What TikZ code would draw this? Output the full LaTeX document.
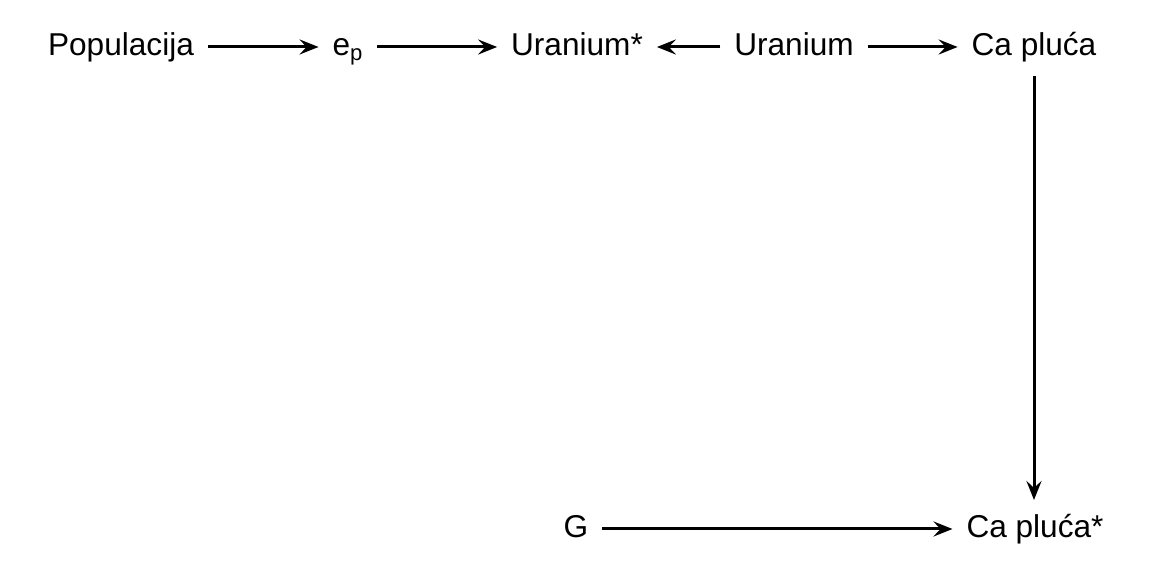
\documentclass[tikz,border=0pt]{standalone}
\usepackage{fontspec}
\setmainfont{Liberation Sans}
\usetikzlibrary{arrows.meta}
\tikzset{
  lbl/.style={inner sep=0pt, outer sep=0pt, text height=12pt, text depth=3pt,
    font=\fontsize{15.8}{19}\selectfont},
  arr/.style={-{Stealth[length=9.5pt,width=7.5pt,inset=3.5pt]}, line width=1.5pt,
    shorten <=7pt, shorten >=7pt}
}
\begin{document}
\begin{tikzpicture}[x=0.5pt,y=-0.5pt]
	  \useasboundingbox (0,0) rectangle (1152,576);
	  \node[lbl] (pop)   at (121,47)  {Populacija};
	  \node[lbl] (ep)    at (348,47)  {e\textsubscript{p}};
	  \node[lbl] (urz)   at (577,47)  {Uranium*};
	  \node[lbl] (ur)    at (794,47)  {Uranium};
	  \node[lbl] (ca)    at (1034,47) {Ca pluća};
	  \node[lbl] (g)     at (576,529) {G};
	  \node[lbl] (caz)   at (1035,529) {Ca pluća*};
	  \draw[arr] (pop) -- (ep);
	  \draw[arr] (ep) -- (urz);
	  \draw[arr] (ur) -- (urz);
	  \draw[arr] (ur) -- (ca);
	  \draw[arr] (ca.south) -- (ca.south |- caz.north);
	  \draw[arr] (g) -- (caz);
	\end{tikzpicture}
\end{document}
